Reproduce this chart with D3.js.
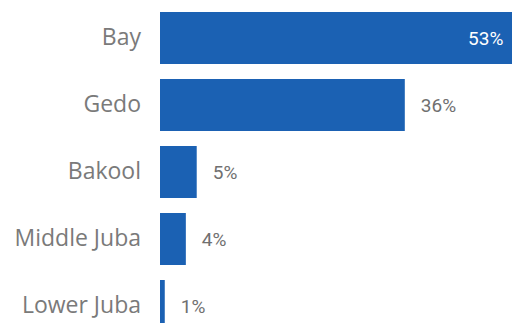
<!DOCTYPE html>
<html>
<head>
<meta charset="utf-8">
<script src="https://cdn.jsdelivr.net/npm/d3@7"></script>
<style>
  body { margin: 0; background: #fff; }
  svg { display: block; }
</style>
</head>
<body>
<div id="chart"></div>
<script>
var regions = ["Bay", "Gedo", "Bakool", "Middle Juba", "Lower Juba"];
var shares = [0.53, 0.36, 0.054, 0.038, 0.007];

var width = 512, height = 323;
var barColor = "#1b61b3";
var textColor = "#7a7a7a";

var data = regions.map(function(r, i) { return { region: r, value: shares[i] }; });

var svg = d3.select("#chart").append("svg")
  .attr("width", width)
  .attr("height", height);

var x = d3.scaleLinear()
  .domain([0, 0.75])
  .range([160, 670]);

var y = d3.scaleBand()
  .domain(regions)
  .range([12, 332])
  .paddingInner(0.224)
  .paddingOuter(0);

// category axis, no line or ticks
var yAxis = d3.axisLeft(y).tickSize(0).tickPadding(19);
var ag = svg.append("g")
  .attr("transform", "translate(" + x(0) + ",0)")
  .call(yAxis);
ag.select(".domain").remove();
ag.selectAll("text")
  .attr("fill", textColor)
  .style("font-family", "'Open Sans', sans-serif")
  .style("font-size", "23px")
  .style("font-weight", "400");

svg.selectAll("rect.bar")
  .data(data)
  .enter()
  .append("rect")
  .attr("class", "bar")
  .attr("x", x(0))
  .attr("y", function(d) { return y(d.region); })
  .attr("width", function(d) { return x(d.value) - x(0); })
  .attr("height", y.bandwidth())
  .attr("fill", barColor);

// labels go inside the bar when it runs past the edge
svg.selectAll("text.val")
  .data(data)
  .enter()
  .append("text")
  .attr("class", "val")
  .attr("x", function(d) { return x(d.value) > width ? x(d.value) - 17 : x(d.value) + 16; })
  .attr("y", function(d) { return y(d.region) + y.bandwidth() / 2; })
  .attr("dy", "0.36em")
  .attr("text-anchor", function(d) { return x(d.value) > width ? "end" : "start"; })
  .attr("fill", function(d) { return x(d.value) > width ? "#fff" : "#707070"; })
  .style("font-family", "Roboto, sans-serif")
  .style("font-size", "19px")
  .style("font-weight", "400")
  .text(function(d) { return Math.round(d.value * 100) + "%"; });
</script>
</body>
</html>
